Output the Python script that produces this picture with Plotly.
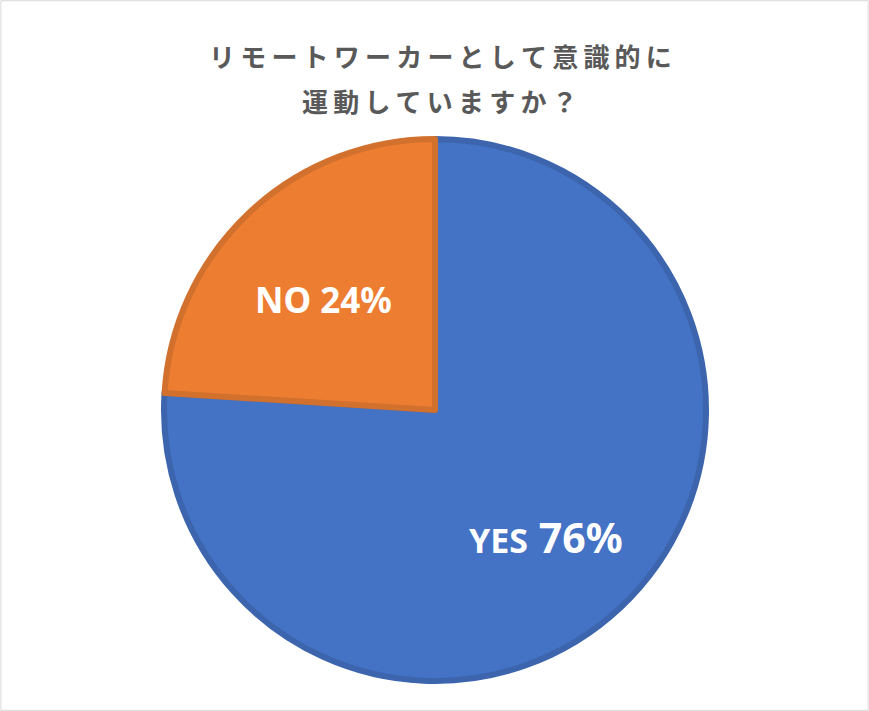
import numpy as np
import plotly.graph_objects as go

# data
labels = ["YES", "NO"]
values = [76, 24]
fill_colors = ["#4472C4", "#ED7D31"]
edge_colors = ["#3C65AE", "#D2702D"]
title_lines = ["リモートワーカーとして意識的に", "運動していますか？"]

W, H = 869, 711
cx, cy, R = 435, 410, 271

fig = go.Figure()
fig.add_trace(go.Pie(
    labels=labels, values=values, sort=False, direction="clockwise", rotation=0,
    marker=dict(colors=fill_colors, line=dict(color=edge_colors, width=6)),
    textinfo="none", hoverinfo="label+percent", showlegend=False,
    domain=dict(x=[(cx - R) / W, (cx + R) / W], y=[1 - (cy + R) / H, 1 - (cy - R) / H]),
))

# data labels placed along the middle angle of each slice
total = sum(values)
start = 0.0
label_r = 0.6
for lab, v in zip(labels, values):
    mid = (start + v / 2) / total * 2 * np.pi
    start += v
    x = cx + label_r * R * np.sin(mid)
    y = cy - label_r * R * np.cos(mid)
    pct = round(v / total * 100)
    if lab == "YES":
        txt = f"<span style='font-size:34px'>{lab}</span> {pct}%"
        size = 41
    else:
        txt = f"{lab} {pct}%"
        size = 35
    fig.add_annotation(x=x / W, y=1 - y / H, xref="paper", yref="paper", text=txt,
                       showarrow=False, xanchor="center", yanchor="middle", yshift=-8,
                       font=dict(family="Noto Sans", size=size,
                                 color="white", weight="bold"))

# title, spaced out a little like the original
for i, line in enumerate(title_lines):
    fig.add_annotation(x=440 / W, y=1 - (55 + 45 * i) / H, xref="paper", yref="paper",
                       text="\u2009".join(line), showarrow=False,
                       xanchor="center", yanchor="middle",
                       font=dict(family="Noto Sans CJK JP", size=26, color="#595959",
                                 weight=600))

fig.add_shape(type="rect", xref="paper", yref="paper", x0=0.001, y0=0.001, x1=0.999, y1=0.999,
              line=dict(color="#D9D9D9", width=1))

fig.update_layout(width=W, height=H, margin=dict(l=0, r=0, t=0, b=0),
                  paper_bgcolor="white", plot_bgcolor="white")
fig.write_html("out.html", config={"displayModeBar": False},
               post_script="document.body.style.margin='0';")
